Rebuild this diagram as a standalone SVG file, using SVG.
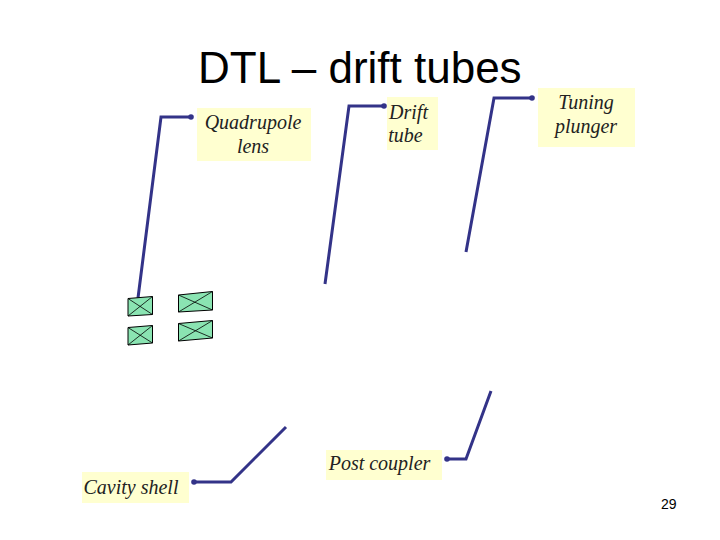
<svg xmlns="http://www.w3.org/2000/svg" width="720" height="540" viewBox="0 0 720 540">
<defs>
<marker id="dot" viewBox="0 0 6 6" refX="3" refY="3" markerWidth="6" markerHeight="6" markerUnits="userSpaceOnUse"><circle cx="3" cy="3" r="2.800" fill="#333388"/></marker>
</defs>
<style>
.box{fill:#ffffd0}
.lbl{font-family:"Liberation Serif",serif;font-style:italic;font-size:20px;fill:#222;text-anchor:middle}
.ttl{font-family:"Liberation Sans",sans-serif;font-size:44px;fill:#000}
.num{font-family:"Liberation Sans",sans-serif;font-size:14px;fill:#000}
.cn{fill:none;stroke:#333388;stroke-width:3;marker-start:url(#dot)}
.mag{fill:#8ae4b2;stroke:#000;stroke-width:1}
.x{fill:none;stroke:#000;stroke-width:.8}
</style>
<rect width="720" height="540" fill="#fff"/>
<text class="ttl" x="198" y="83">DTL – drift tubes</text>
<g id="connectors">
<path class="cn" d="M191 117H161L138 298"/>
<path class="cn" d="M384 106H349L325 284"/>
<path class="cn" d="M532 98H494L466 252"/>
<path class="cn" d="M194 482H231L286 427"/>
<path class="cn" d="M447 459H466L491 391"/>
</g>
<g id="quadrupole-lens"><rect class="box" x="197" y="108" width="114" height="53"/><text class="lbl" x="253" y="129">Quadrupole</text><text class="lbl" x="253" y="153">lens</text></g>
<g id="drift-tube"><rect class="box" x="387" y="97" width="51" height="53"/><text class="lbl" x="408.500" y="119">Drift</text><text class="lbl" x="405.500" y="142">tube</text></g>
<g id="tuning-plunger"><rect class="box" x="538" y="88" width="97" height="59"/><text class="lbl" x="586" y="109">Tuning</text><text class="lbl" x="586" y="133">plunger</text></g>
<g id="cavity-shell"><rect class="box" x="82" y="472" width="107" height="31"/><text class="lbl" x="131" y="494">Cavity shell</text></g>
<g id="post-coupler"><rect class="box" x="326" y="450" width="116" height="30"/><text class="lbl" x="379.500" y="470">Post coupler</text></g>
<g id="magnets">
<path class="mag" d="M128 298.500L152.500 296.500V314.500L128 316Z"/><path class="x" d="M128 298.500L152.500 314.500M152.500 296.500L128 316"/>
<path class="mag" d="M128 327.500L152.500 325.500V343L128 345Z"/><path class="x" d="M128 327.500L152.500 343M152.500 325.500L128 345"/>
<path class="mag" d="M178.500 295L212.500 291.500V310L178.500 312Z"/><path class="x" d="M178.500 295L212.500 310M212.500 291.500L178.500 312"/>
<path class="mag" d="M178.500 323.500L212.500 320.500V338L178.500 341Z"/><path class="x" d="M178.500 323.500L212.500 338M212.500 320.500L178.500 341"/>
</g>
<text class="num" x="661" y="509">29</text>
</svg>
